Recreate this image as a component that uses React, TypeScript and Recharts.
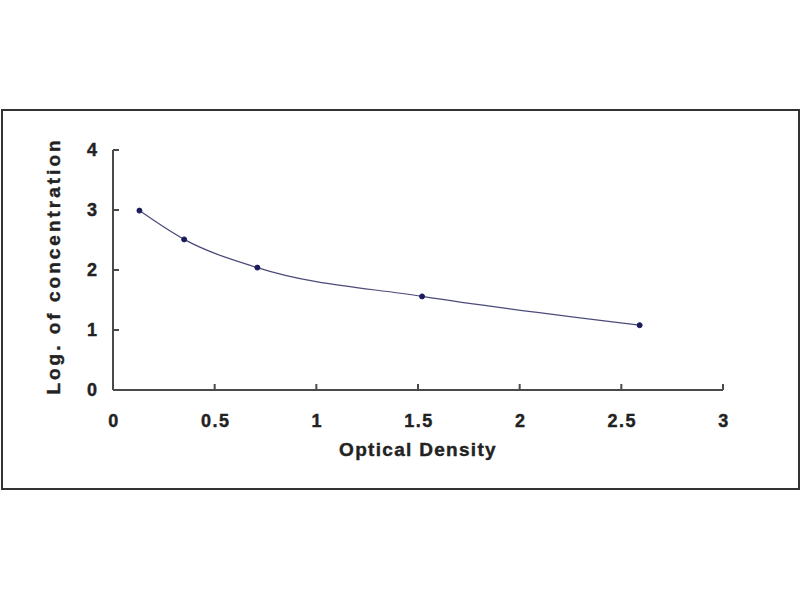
import { LineChart, Line, XAxis, YAxis } from 'recharts';

const OD = [0.13, 0.35, 0.71, 1.52, 2.59];
const LOG_CONC = [2.99, 2.51, 2.04, 1.56, 1.08];
const X_TICKS = [0, 0.5, 1, 1.5, 2, 2.5, 3];
const Y_TICKS = [0, 1, 2, 3, 4];

const data = OD.map((od, i) => ({ od, conc: LOG_CONC[i] }));

const FONT = '"Liberation Sans", Arial, sans-serif';
const AXIS = '#4a4a4a';
const TEXT = '#222';

// ticks point into the plot, so draw them by hand next to the label
const XTick = (props: any) => {
    const { x, y, payload } = props;
    const axisY = y - 20;
    return (
        <g>
            <line x1={x} x2={x} y1={axisY} y2={axisY - 6} stroke={AXIS} strokeWidth={2} />
            <text x={x + 1} y={y} dy={17} textAnchor="middle" fontFamily={FONT} fontWeight="bold" fontSize={18} letterSpacing={1.5} fill={TEXT} stroke={TEXT} strokeWidth={0.4}>
                {payload.value}
            </text>
        </g>
    );
};

const YTick = (props: any) => {
    const { x, y, payload } = props;
    const axisX = x + 16;
    return (
        <g>
            <line x1={axisX} x2={axisX + 6} y1={y} y2={y} stroke={AXIS} strokeWidth={2} />
            <text x={x} y={y} dy={6} textAnchor="end" fontFamily={FONT} fontWeight="bold" fontSize={18} fill={TEXT} stroke={TEXT} strokeWidth={0.4}>
                {payload.value}
            </text>
        </g>
    );
};

export default function App() {
    return (
        <div style={{ position: 'absolute', left: 0, top: 0, width: 800, height: 600, background: '#fff' }}>
            <div
                style={{
                    position: 'absolute',
                    left: 1,
                    top: 109,
                    width: 795,
                    height: 377,
                    border: '2px solid #333',
                }}
            />
            <div style={{ position: 'absolute', left: 0, top: 0 }}>
                <LineChart width={800} height={600} data={data} margin={{ top: 150, right: 77, bottom: 130, left: 40 }}>
                    <XAxis
                        dataKey="od"
                        type="number"
                        domain={[0, 3]}
                        ticks={X_TICKS}
                        interval={0}
                        tickSize={0}
                        tickMargin={20}
                        tick={<XTick />}
                        axisLine={{ stroke: AXIS, strokeWidth: 2 }}
                        height={80}
                        label={{
                            value: 'Optical Density',
                            position: 'insideBottom',
                            offset: 14,
                            style: { fontFamily: FONT, fontWeight: 'bold', fontSize: 19, letterSpacing: 1.3, fill: TEXT, stroke: TEXT, strokeWidth: 0.4 },
                        }}
                    />
                    <YAxis
                        type="number"
                        domain={[0, 4]}
                        ticks={Y_TICKS}
                        interval={0}
                        tickSize={0}
                        tickMargin={16}
                        tick={<YTick />}
                        axisLine={{ stroke: AXIS, strokeWidth: 2 }}
                        width={73}
                        label={{
                            value: 'Log. of concentration',
                            angle: -90,
                            position: 'insideLeft',
                            offset: 0,
                            dx: 13,
                            dy: -4,
                            style: { textAnchor: 'middle', fontFamily: FONT, fontWeight: 'bold', fontSize: 19, letterSpacing: 3, fill: TEXT, stroke: TEXT, strokeWidth: 0.4 },
                        }}
                    />
                    <Line
                        dataKey="conc"
                        type="monotone"
                        stroke="#4a4a78"
                        strokeWidth={1.2}
                        dot={{ r: 2.5, fill: '#1c1c5c', stroke: '#1c1c5c', strokeWidth: 1 }}
                        isAnimationActive={false}
                    />
                </LineChart>
            </div>
        </div>
    );
}
